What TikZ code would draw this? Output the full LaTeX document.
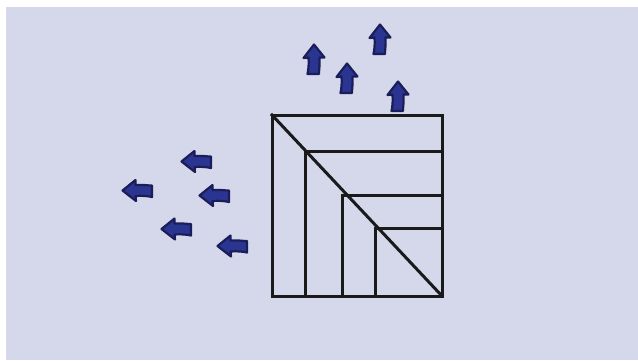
\documentclass[tikz,border=0pt]{standalone}
\usepackage{xcolor}
\definecolor{bgcol}{HTML}{D4D8EA}
\definecolor{arrfill}{HTML}{2A3592}
\definecolor{arrdraw}{HTML}{1B1D58}
\definecolor{linecol}{HTML}{1A1A1A}
\tikzset{
  frameline/.style={draw=linecol, line width=3pt, line cap=rect},
  blockarrow/.style={fill=arrfill, draw=arrdraw, line width=2.2pt, line join=round},
  pics/uparrow/.style={code={
    \path[blockarrow] (0,0) -- (10.5,13) -- (5.5,13)
      .. controls (6,20) and (5,25) .. (5,29.5)
      -- (-6.5,29.5)
      .. controls (-5.5,25) and (-5,19) .. (-5.5,13)
      -- (-10.5,13.5) -- cycle;
  }}
}
\begin{document}
\begin{tikzpicture}[x=1pt,y=-1pt]
\useasboundingbox (0,0) rectangle (638,360);
\fill[white] (0,0) rectangle (638,360);
\fill[bgcol] (6,7) rectangle (638,360);
% square corners
\coordinate (tl) at (272,115);
\coordinate (tr) at (442,115);
\coordinate (br) at (442,296);
\coordinate (bl) at (272,296);
\coordinate (a1) at (305,151.5);
\coordinate (a2) at (342,195.5);
\coordinate (a3) at (375.5,228.5);
\draw[frameline] (tl) rectangle (br);
\draw[frameline] (a1 |- br) -- (a1) -- (a1 -| br);
\draw[frameline] (a2 |- br) -- (a2) -- (a2 -| br);
\draw[frameline] (a3 |- br) -- (a3) -- (a3 -| br);
\draw[frameline] (tl) -- (br);
% up arrows
\pic at (314,44.5) {uparrow};
\pic at (347,63.5) {uparrow};
\pic at (380,24.5) {uparrow};
\pic at (398,81.5) {uparrow};
% left arrows
\pic[rotate=90] at (181.5,161.5) {uparrow};
\pic[rotate=90] at (122.5,190.5) {uparrow};
\pic[rotate=90] at (199.5,195.5) {uparrow};
\pic[rotate=90] at (161.5,229) {uparrow};
\pic[rotate=90] at (217.5,246) {uparrow};
\end{tikzpicture}
\end{document}
